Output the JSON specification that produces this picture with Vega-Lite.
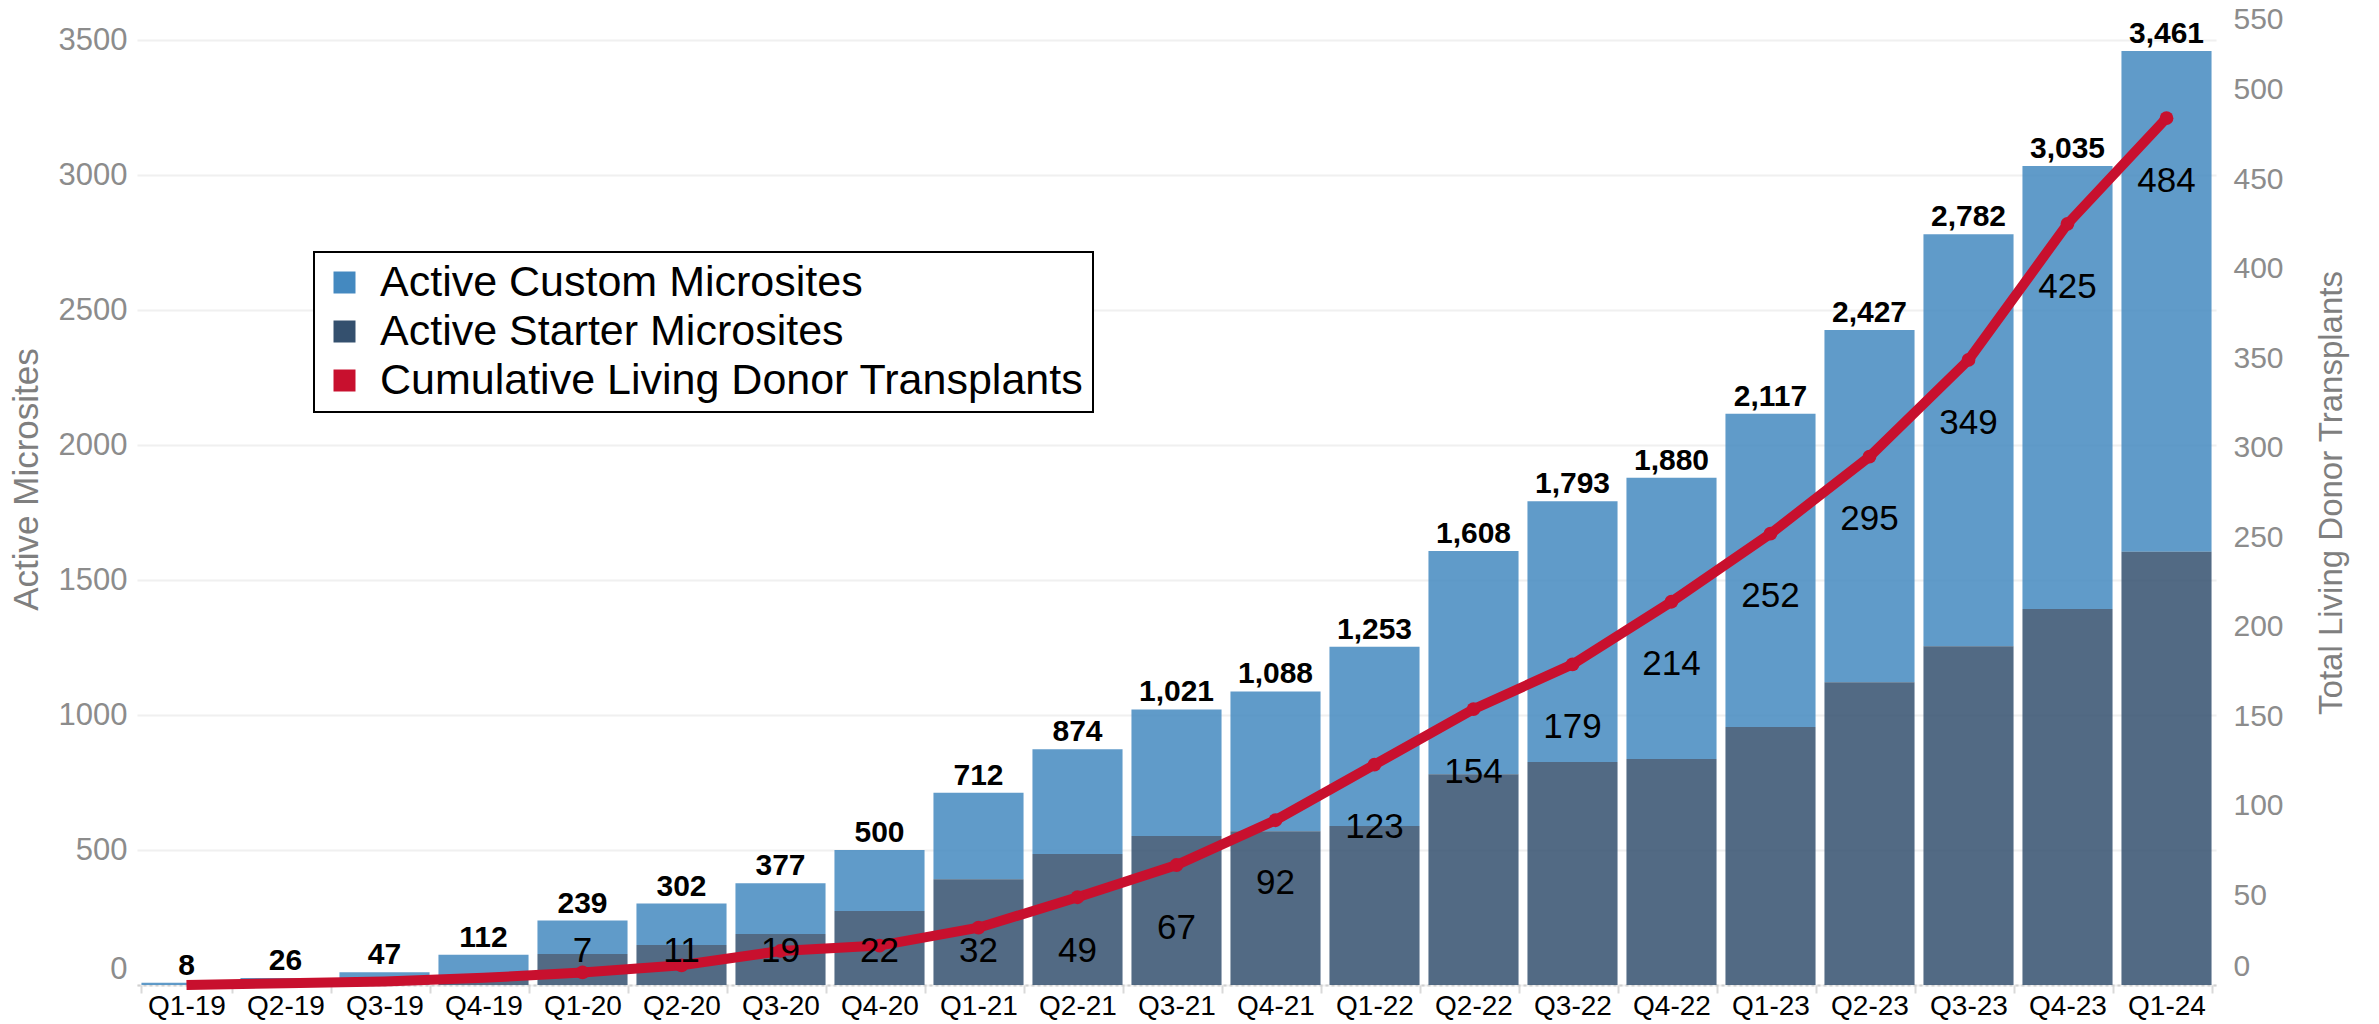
{
  "$schema": "https://vega.github.io/schema/vega-lite/v6.json",
  "width": 2079,
  "height": 985,
  "autosize": {"type": "none"},
  "padding": {"left": 137, "top": 0, "right": 163, "bottom": 39},
  "background": "white",
  "config": {
    "font": "Liberation Sans",
    "view": {"stroke": null},
    "legend": {
      "orient": "none",
      "legendX": 177,
      "legendY": 252,
      "direction": "vertical",
      "symbolType": "square",
      "symbolSize": 484,
      "symbolStrokeWidth": 0,
      "symbolOpacity": 1,
      "labelFontSize": 43,
      "labelColor": "black",
      "labelOffset": 14,
      "labelLimit": 1000,
      "strokeColor": "black",
      "strokeWidth": 2,
      "fillColor": "white",
      "padding": 9,
      "rowPadding": 5,
      "title": null
    }
  },
  "data": {
    "values": [
      {"q": "Q1-19", "custom": 8, "starter": 0, "total": 8, "ldt": 0},
      {"q": "Q2-19", "custom": 26, "starter": 0, "total": 26, "ldt": 1},
      {"q": "Q3-19", "custom": 47, "starter": 0, "total": 47, "ldt": 2},
      {"q": "Q4-19", "custom": 87, "starter": 25, "total": 112, "ldt": 4},
      {"q": "Q1-20", "custom": 124, "starter": 115, "total": 239, "ldt": 7},
      {"q": "Q2-20", "custom": 154, "starter": 148, "total": 302, "ldt": 11},
      {"q": "Q3-20", "custom": 188, "starter": 189, "total": 377, "ldt": 19},
      {"q": "Q4-20", "custom": 226, "starter": 274, "total": 500, "ldt": 22},
      {"q": "Q1-21", "custom": 320, "starter": 392, "total": 712, "ldt": 32},
      {"q": "Q2-21", "custom": 389, "starter": 485, "total": 874, "ldt": 49},
      {"q": "Q3-21", "custom": 469, "starter": 552, "total": 1021, "ldt": 67},
      {"q": "Q4-21", "custom": 518, "starter": 570, "total": 1088, "ldt": 92},
      {"q": "Q1-22", "custom": 664, "starter": 589, "total": 1253, "ldt": 123},
      {"q": "Q2-22", "custom": 827, "starter": 781, "total": 1608, "ldt": 154},
      {"q": "Q3-22", "custom": 967, "starter": 826, "total": 1793, "ldt": 179},
      {"q": "Q4-22", "custom": 1043, "starter": 837, "total": 1880, "ldt": 214},
      {"q": "Q1-23", "custom": 1161, "starter": 956, "total": 2117, "ldt": 252},
      {"q": "Q2-23", "custom": 1305, "starter": 1122, "total": 2427, "ldt": 295},
      {"q": "Q3-23", "custom": 1527, "starter": 1255, "total": 2782, "ldt": 349},
      {"q": "Q4-23", "custom": 1642, "starter": 1393, "total": 3035, "ldt": 425},
      {"q": "Q1-24", "custom": 1856, "starter": 1605, "total": 3461, "ldt": 484}
    ]
  },
  "encoding": {
    "x": {
      "field": "q",
      "type": "ordinal",
      "sort": null,
      "scale": {"paddingInner": 0.09, "paddingOuter": 0.045},
      "axis": {
        "title": null,
        "labelAngle": 0,
        "labelFontSize": 28,
        "labelColor": "black",
        "labelPadding": -1,
        "tickBand": "extent",
        "tickColor": "#d9d9d9",
        "tickSize": 8,
        "tickWidth": 2,
        "domainColor": "#d0d0d0",
        "domainDash": [3, 3],
        "domainWidth": 2,
        "grid": false
      }
    }
  },
  "layer": [
    {
      "layer": [
        {
          "transform": [
            {"fold": ["custom", "starter"], "as": ["key", "count"]},
            {"lookup": "key", "from": {"data": {"values": [
              {"key": "custom", "series": "Active Custom Microsites"},
              {"key": "starter", "series": "Active Starter Microsites"}
            ]}, "key": "key", "fields": ["series"]}}
          ],
          "mark": {"type": "bar", "opacity": 0.85},
          "encoding": {
            "y": {
              "field": "count",
              "type": "quantitative",
              "stack": "zero",
              "title": "Active Microsites",
              "scale": {"domain": [0, 3650], "nice": false},
              "axis": {
                "orient": "left",
                "values": [0, 500, 1000, 1500, 2000, 2500, 3000, 3500],
                "format": "d",
                "labelFontSize": 31,
                "labelColor": "#8c8c8c",
                "labelPadding": 10,
                "labelFlush": true,
                "ticks": false,
                "domain": false,
                "grid": true,
                "gridColor": "#f0f0f0",
                "gridWidth": 2,
                "titleFontSize": 35,
                "titleFontWeight": "normal",
                "titleColor": "#7f7f7f",
                "titlePadding": 14,
                "titleY": 479
              }
            },
            "color": {
              "field": "series",
              "type": "nominal",
              "scale": {
                "domain": ["Active Custom Microsites", "Active Starter Microsites", "Cumulative Living Donor Transplants"],
                "range": ["#4489C0", "#34506E", "#C8102E"]
              }
            },
            "order": {"field": "key", "sort": "descending"}
          }
        },
        {
          "mark": {"type": "text", "fontSize": 30, "fontWeight": "bold", "color": "black", "baseline": "alphabetic", "dy": -8},
          "encoding": {
            "y": {"field": "total", "type": "quantitative", "title": "Active Microsites", "scale": {"domain": [0, 3650], "nice": false}},
            "text": {"field": "total", "type": "quantitative", "format": ","}
          }
        }
      ]
    },
    {
      "layer": [
        {
          "mark": {"type": "line", "strokeWidth": 10},
          "encoding": {
            "y": {
              "field": "ldt",
              "type": "quantitative",
              "title": "Total Living Donor Transplants",
              "scale": {"domain": [0, 550], "nice": false},
              "axis": {
                "orient": "right",
                "values": [0, 50, 100, 150, 200, 250, 300, 350, 400, 450, 500, 550],
                "labelFontSize": 30,
                "labelColor": "#8c8c8c",
                "labelPadding": 17,
                "labelFlush": true,
                "labelFlushOffset": -4,
                "ticks": false,
                "domain": false,
                "grid": false,
                "titleFontSize": 33,
                "titleFontWeight": "normal",
                "titleColor": "#7f7f7f",
                "titleAngle": 270,
                "titlePadding": 65
              }
            },
            "color": {"datum": "Cumulative Living Donor Transplants"}
          }
        },
        {
          "transform": [{"filter": "datum.ldt >= 7"}],
          "mark": {"type": "point", "filled": true, "size": 190, "opacity": 1},
          "encoding": {
            "y": {"field": "ldt", "type": "quantitative", "title": "Total Living Donor Transplants", "scale": {"domain": [0, 550], "nice": false}},
            "color": {"datum": "Cumulative Living Donor Transplants"}
          }
        },
        {
          "transform": [
            {"filter": "datum.ldt >= 7"},
            {"calculate": "max(datum.ldt - 35, 19)", "as": "labelPos"}
          ],
          "mark": {"type": "text", "fontSize": 35, "color": "black", "baseline": "middle"},
          "encoding": {
            "y": {"field": "labelPos", "type": "quantitative", "title": "Total Living Donor Transplants", "scale": {"domain": [0, 550], "nice": false}},
            "text": {"field": "ldt", "type": "quantitative"}
          }
        }
      ]
    }
  ],
  "resolve": {"scale": {"y": "independent"}}
}
